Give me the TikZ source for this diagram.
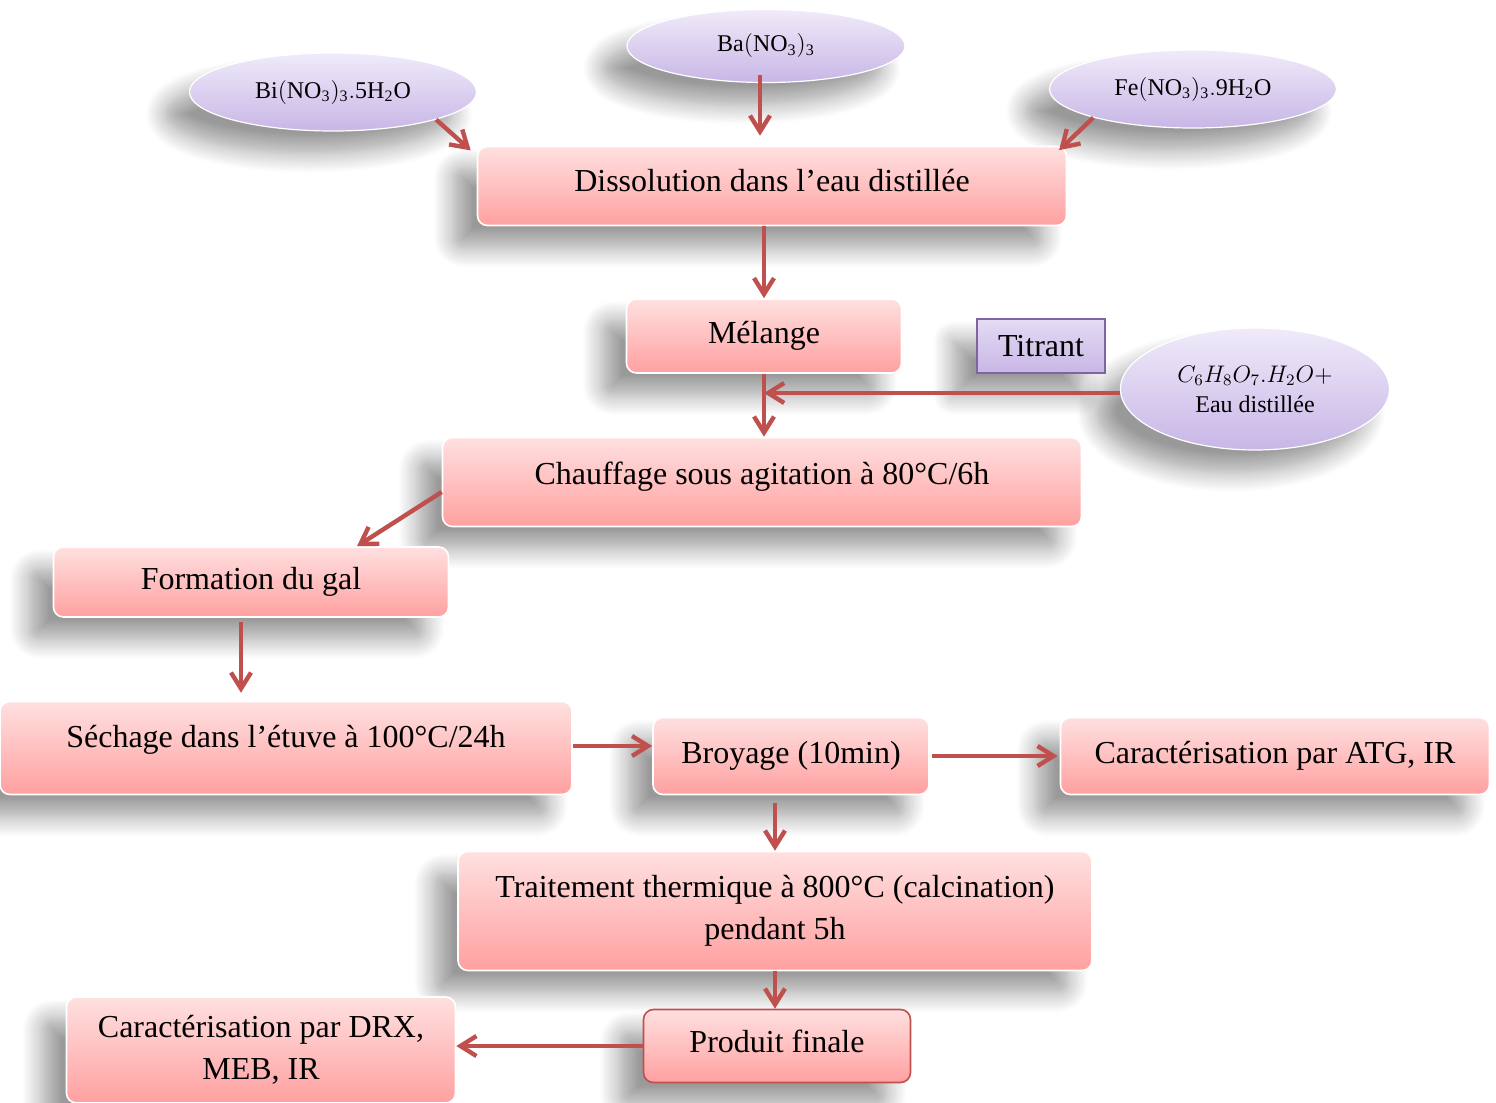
\documentclass[tikz,border=0pt]{standalone}
\usepackage{fontspec}
\setmainfont{Liberation Serif}
\usetikzlibrary{arrows.meta,shapes.geometric,shadows.blur}
\definecolor{rosehaut}{RGB}{255,224,224}
\definecolor{rosebas}{RGB}{255,160,160}
\definecolor{lilashaut}{RGB}{240,235,250}
\definecolor{lilasbas}{RGB}{200,182,230}
\definecolor{flechecol}{RGB}{192,80,77}
\definecolor{titrantbord}{RGB}{128,100,162}
\tikzset{>={Straight Barb[length=8pt,width=10pt]},
  ombre/.style={blur shadow={shadow xshift=-12pt,shadow yshift=-11pt,shadow blur radius=10pt,shadow blur steps=12,shadow opacity=40}},
  etape/.style={rectangle,rounded corners=5pt,top color=rosehaut,bottom color=rosebas,draw=white,line width=.8pt,ombre,align=center,inner sep=0pt,font=\fontsize{16}{21}\selectfont},
  produit/.style={ellipse,top color=lilashaut,bottom color=lilasbas,draw=white,line width=.6pt,ombre,align=center,inner sep=0pt,font=\fontsize{12}{15}\selectfont},
  fleche/.style={->,line width=2.2pt,draw=flechecol}}

\begin{document}
\begin{tikzpicture}[x=0.5pt,y=-0.5pt]
    \useasboundingbox (0,0) rectangle (1496,1103);
    % produits de depart
    \node[produit,minimum width=143.5pt,minimum height=39pt] (bi) at (333,92) {$\mathrm{Bi(NO_3)_3.5H_2O}$};
    \node[produit,minimum width=139pt,minimum height=36.5pt] (ba) at (766,46) {$\mathrm{Ba(NO_3)_3}$};
    \node[produit,minimum width=143.5pt,minimum height=39pt] (fe) at (1193,89) {$\mathrm{Fe(NO_3)_3.9H_2O}$};
    \node[produit,minimum width=134.5pt,minimum height=61pt] (acide) at (1255,389) {$C_6H_8O_7.H_2O{+}$\\Eau distillée};
    % etapes
    \node[etape,text depth=5.5pt,minimum width=294.5pt,minimum height=39.5pt] (dissolution) at (772,186) {Dissolution dans l’eau distillée};
    \node[etape,minimum width=137.5pt,minimum height=37pt] (melange) at (764,336) {Mélange};
    \node[rectangle,top color=lilashaut!70!lilasbas,bottom color=lilasbas,draw=titrantbord,line width=.6pt,ombre,minimum width=64pt,minimum height=27pt,font=\fontsize{16}{21}\selectfont] (titrant) at (1041,346) {Titrant};
    \node[etape,text depth=8.5pt,minimum width=319.5pt,minimum height=44.5pt] (chauffage) at (762,482) {Chauffage sous agitation à 80°C/6h};
    \node[etape,minimum width=197.5pt,minimum height=35pt] (formation) at (251,582) {Formation du gal};
    \node[etape,text depth=11.5pt,minimum width=286pt,minimum height=46.5pt] (sechage) at (286,748) {Séchage dans l’étuve à 100°C/24h};
    \node[etape,minimum width=138pt,minimum height=38.5pt] (broyage) at (791,756) {Broyage (10min)};
    \node[etape,minimum width=214.5pt,minimum height=38.5pt] (atg) at (1275,756) {Caractérisation par ATG, IR};
    \node[etape,minimum width=317pt,minimum height=59.5pt] (traitement) at (775,911) {Traitement thermique à 800°C (calcination)\\pendant 5h};
    \node[etape,draw=flechecol,text depth=5pt,minimum width=133.5pt,minimum height=36.5pt] (final) at (777,1046) {Produit finale};
    \node[etape,minimum width=194.5pt,minimum height=53pt] (drx) at (261,1050) {Caractérisation par DRX,\\MEB, IR};
    % fleches
    \draw[fleche,shorten >=4pt] (bi.-15) -- ([yshift=-5pt]dissolution.north west);
    \draw[fleche,shorten <=-4pt,shorten >=5pt] ([xshift=-3pt]ba.south) -- ([xshift=-3pt]ba.south |- dissolution.north);
    \draw[fleche,shorten >=4pt] (fe.196) -- ([xshift=-7pt,yshift=-5pt]dissolution.north east);
    \draw[fleche] (dissolution.south -| melange) -- (melange.north);
    \draw[fleche] (melange.south) -- (chauffage.north -| melange);
    \draw[fleche] ([yshift=-2pt]acide.west) -- ([yshift=-2pt]acide.west -| melange.south);
    \draw[fleche] ([yshift=-5pt]chauffage.west) -- ([xshift=53pt]formation.north);
    \draw[fleche,shorten <=2pt,shorten >=4pt] ([xshift=-5pt]formation.south) -- ([xshift=-5pt]formation.south |- sechage.north);
    \draw[fleche] ([yshift=1pt]sechage.east) -- ([yshift=1pt]sechage.east -| broyage.west);
    \draw[fleche,shorten <=1pt,shorten >=1pt] (broyage.east) -- (atg.west);
    \draw[fleche,shorten <=4pt] (traitement.north |- broyage.south) -- (traitement.north);
    \draw[fleche] (traitement.south) -- (traitement.south |- final.north);
    \draw[fleche] (final.west) -- (final.west -| drx.east);
\end{tikzpicture}
\end{document}
